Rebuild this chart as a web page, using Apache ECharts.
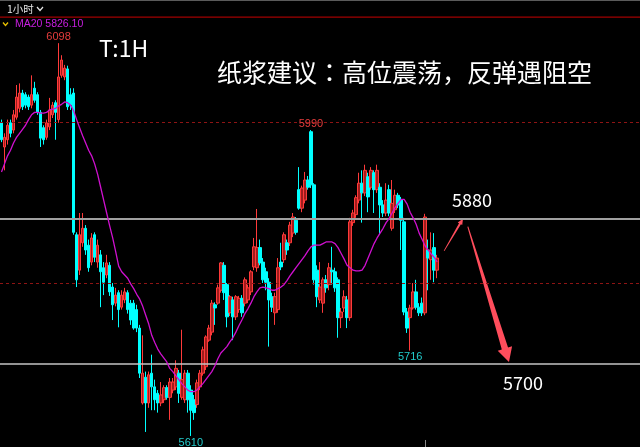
<!DOCTYPE html>
<html><head><meta charset="utf-8">
<script src="https://cdn.jsdelivr.net/npm/echarts@6/dist/echarts.min.js"></script>
<style>html,body{margin:0;padding:0;background:#000}#c{width:640px;height:447px}</style>
</head><body><div id="c"></div>
<script>
// ---- data (1-hour candles) ----
const opens = [5999,5969,5978,5999,5990,6006,6017,6036,6034,6031,
 6021,6042,6034,6012,5993,5981,5994,6009,6024,6003,
 6058,6056,6066,6034,6036,5860,5816,5850,5868,5847,
 5826,5860,5826,5835,5819,5810,5822,5795,5775,5788,
 5770,5779,5788,5775,5775,5767,5744,5651,5683,5651,
 5688,5671,5663,5651,5655,5670,5658,5667,5671,5688,
 5658,5655,5688,5667,5655,5649,5671,5688,5696,5729,
 5739,5773,5775,5791,5822,5798,5763,5779,5758,5767,
 5781,5775,5779,5789,5820,5819,5844,5826,5814,5801,
 5783,5763,5767,5826,5829,5850,5850,5862,5878,5916,
 5893,5903,5928,5988,5922,5816,5779,5775,5804,5798,
 5816,5814,5804,5757,5769,5779,5757,5875,5885,5903,
 5924,5912,5932,5919,5937,5916,5919,5897,5887,5916,
 5868,5891,5909,5903,5876,5764,5757,5769,5789,5770,
 5775,5763,5841,5829,5844,5816];
const closes = [5978,5981,5996,5986,6009,6031,6036,6019,6021,6019,
 6034,6027,6012,5980,5978,5999,6015,6021,6012,6056,
 6077,6067,6019,6021,5863,5804,5860,5868,5841,5819,
 5856,5832,5847,5814,5801,5825,5789,5773,5785,5767,
 5785,5789,5767,5754,5744,5744,5688,5688,5651,5686,
 5671,5655,5651,5661,5670,5658,5677,5677,5694,5663,
 5680,5688,5655,5642,5639,5676,5688,5717,5733,5744,
 5775,5769,5794,5825,5788,5758,5783,5758,5783,5781,
 5763,5804,5794,5814,5845,5844,5825,5804,5801,5779,
 5770,5783,5819,5820,5860,5841,5872,5882,5863,5893,
 5918,5928,5919,5922,5804,5783,5795,5804,5794,5819,
 5814,5794,5757,5764,5783,5757,5876,5887,5906,5924,
 5912,5940,5907,5940,5916,5940,5897,5887,5903,5887,
 5899,5909,5897,5878,5764,5744,5769,5789,5770,5763,
 5763,5882,5831,5841,5816,5831];
const lows = [5975,5940,5972,5981,5986,6003,6012,6015,6017,6015,
 6017,6024,6009,5969,5972,5978,5990,6005,5978,5999,
 6055,6052,6015,6015,5860,5795,5810,5845,5835,5814,
 5822,5826,5819,5770,5785,5806,5784,5754,5771,5745,
 5767,5775,5762,5748,5742,5739,5682,5649,5615,5645,
 5642,5642,5639,5647,5651,5655,5630,5663,5667,5651,
 5655,5651,5639,5610,5630,5645,5667,5685,5692,5727,
 5735,5748,5773,5788,5779,5745,5759,5729,5754,5763,
 5758,5771,5775,5785,5816,5814,5822,5800,5791,5721,
 5764,5748,5763,5816,5825,5835,5846,5857,5860,5891,
 5888,5899,5916,5918,5798,5770,5775,5763,5788,5791,
 5798,5789,5732,5744,5764,5744,5753,5871,5881,5899,
 5875,5908,5888,5916,5887,5912,5860,5882,5883,5883,
 5865,5887,5893,5841,5760,5738,5716,5767,5767,5759,
 5759,5760,5791,5804,5801,5806];
const highs = [6003,5986,6003,6003,6015,6046,6048,6040,6037,6034,
 6058,6050,6037,6015,5996,6003,6030,6025,6027,6098,
 6083,6071,6070,6042,6042,5863,5887,5887,5872,5854,
 5862,5863,5854,5841,5826,5835,5826,5800,5794,5791,
 5791,5794,5791,5779,5779,5773,5748,5735,5690,5690,
 5711,5680,5667,5677,5673,5673,5682,5682,5704,5692,
 5742,5692,5692,5673,5661,5680,5692,5721,5735,5748,
 5779,5776,5798,5826,5826,5800,5785,5783,5785,5784,
 5785,5807,5798,5816,5856,5892,5854,5831,5819,5806,
 5788,5788,5831,5850,5863,5854,5876,5887,5882,5944,
 5921,5938,5933,5990,5924,5822,5826,5807,5810,5825,
 5845,5819,5807,5769,5791,5784,5881,5891,5909,5937,
 5940,5947,5937,5944,5940,5947,5924,5903,5924,5922,
 5928,5916,5912,5907,5881,5769,5773,5800,5804,5775,
 5782,5886,5854,5863,5862,5835];
const ma20 = [5938,5948,5958,5965,5974,5981,5986,5991,5996,6003,
 6009,6012,6012,6011,6011,6012,6015,6016,6017,6020,
 6022,6025,6024,6021,6014,6003,5993,5983,5974,5965,
 5958,5948,5935,5919,5903,5887,5871,5856,5839,5821,
 5814,5810,5806,5799,5793,5786,5780,5771,5760,5749,
 5735,5726,5718,5712,5707,5702,5694,5690,5685,5680,
 5675,5671,5667,5665,5665,5667,5671,5675,5680,5685,
 5690,5697,5706,5713,5717,5721,5727,5732,5739,5747,
 5754,5762,5768,5775,5783,5789,5794,5795,5794,5793,
 5791,5791,5793,5795,5798,5803,5809,5814,5819,5824,
 5829,5834,5840,5845,5847,5847,5847,5849,5851,5851,
 5851,5849,5844,5837,5830,5822,5819,5816,5815,5815,
 5816,5822,5831,5840,5849,5856,5862,5868,5875,5880,
 5887,5894,5899,5904,5904,5898,5888,5881,5873,5862,
 5854,5846,5841,5836,5832,5826.1];
const slotCount = 213;               // candle slots across the full width (right part empty)
const categories = Array.from({length: slotCount}, (_, i) => String(i));
const solidLevels = [5880, 5700];    // grey horizontal levels
const dashLevels = [6000, 5800];     // dark red dashed grid levels
const extremes = [                    // [slot, price, side]
  [19, 6098, 'top'], [103, 5990, 'top'], [136, 5716, 'bottom'], [63, 5610, 'bottom']
];
const sessionTick = [141, 5605, 5596.3];
const arrowUp = [[147.3, 5840], [153.6, 5880]];
const arrowDown = [[155.2, 5870], [168.9, 5702]];
const yMin = 5596.3, yMax = 6151.6;

// ---- chart ----
const RED = '#ff3a3a', CYAN = '#00ffff';
const candleData = opens.map((o, i) => [o, closes[i], lows[i], highs[i]]);
const chart = echarts.init(document.getElementById('c'), null, {renderer: 'canvas'});

function arrowPoly(p0, p1, w0, w1, headLen, headHalf) {
  const dx = p1[0] - p0[0], dy = p1[1] - p0[1];
  const L = Math.hypot(dx, dy), ux = dx / L, uy = dy / L, nx = -uy, ny = ux;
  const hb = [p1[0] - ux * headLen, p1[1] - uy * headLen];
  return [
    [p0[0] + nx * w0 / 2, p0[1] + ny * w0 / 2],
    [hb[0] + nx * w1 / 2, hb[1] + ny * w1 / 2],
    [hb[0] + nx * headHalf, hb[1] + ny * headHalf],
    p1,
    [hb[0] - nx * headHalf, hb[1] - ny * headHalf],
    [hb[0] - nx * w1 / 2, hb[1] - ny * w1 / 2],
    [p0[0] - nx * w0 / 2, p0[1] - ny * w0 / 2]
  ];
}
const arrows = [
  {pts: arrowUp, w0: 0.8, w1: 2.2, hl: 6, hh: 2.6},
  {pts: arrowDown, w0: 1, w1: 6.5, hl: 14, hh: 7.5}
];

const lineMarks = [];
solidLevels.forEach((v, k) => lineMarks.push({yAxis: v, lineStyle: {color: k === 0 ? '#a0a0a0' : '#c4c4c4', width: k === 0 ? 2 : 1.5, type: 'solid'}}));
dashLevels.forEach(v => lineMarks.push({yAxis: v, lineStyle: {color: '#8e1414', width: 1, type: [3, 3]}}));
lineMarks.push([{coord: [sessionTick[0], sessionTick[1]]}, {coord: [sessionTick[0], sessionTick[2]]}]);

const option = {
  backgroundColor: '#000',
  animation: false,
  grid: {left: 0, right: 0, top: 0, bottom: 0, containLabel: false},
  xAxis: [
    {type: 'category', data: categories, boundaryGap: true, show: false},
    {type: 'value', min: -0.5, max: slotCount - 0.5, show: false}
  ],
  yAxis: {type: 'value', min: yMin, max: yMax, show: false, splitLine: {show: false}},
  series: [
    {
      type: 'candlestick', data: candleData, barWidth: 3,
      itemStyle: {color: '#a01c1c', color0: CYAN, borderColor: RED, borderColor0: CYAN, borderWidth: 1},
      markLine: {
        silent: true, symbol: ['none', 'none'], label: {show: false},
        lineStyle: {color: '#888', width: 1, type: 'solid'},
        data: lineMarks
      },
      markPoint: {
        symbol: 'circle', symbolSize: 0, silent: true,
        data: extremes.map(e => ({
          coord: [e[0], e[1]], value: e[1],
          label: {show: true, position: e[2], distance: 1, formatter: '{c}',
            color: e[2] === 'top' ? '#e53c3c' : '#22cccc',
            fontSize: 11, fontFamily: 'Liberation Sans'}
        }))
      }
    },
    {
      type: 'line', data: ma20, symbol: 'none', smooth: false,
      lineStyle: {color: '#d010d0', width: 1.3}, z: 5
    },
    {
      type: 'custom', xAxisIndex: 1, yAxisIndex: 0, clip: false, silent: true,
      data: [[0], [1]],
      renderItem: (params, api) => {
        const a = arrows[params.dataIndex];
        const p0 = api.coord(a.pts[0]), p1 = api.coord(a.pts[1]);
        return {type: 'polygon', shape: {points: arrowPoly(p0, p1, a.w0, a.w1, a.hl, a.hh)},
          style: {fill: '#ff4d5c'}};
      }
    }
  ],
  graphic: [
    {type: 'rect', shape: {x: 0, y: 0, width: 640, height: 1}, style: {fill: '#5a5a5a'}},
    {type: 'rect', shape: {x: 0, y: 16.5, width: 640, height: 1.2}, style: {fill: '#a00000'}},
    {type: 'text', x: 7, y: 9, style: {text: '1小时', fill: '#e6e6e6', font: '10.5px "Noto Sans CJK SC"', textVerticalAlign: 'middle'}},
    {type: 'polyline', shape: {points: [[37, 7], [40, 10.5], [43, 7]]}, style: {stroke: '#e6e6e6', lineWidth: 1.2, fill: null}},
    {type: 'polyline', shape: {points: [[3, 22.5], [5.5, 25.5], [8, 22.5]]}, style: {stroke: '#e8c000', lineWidth: 1.3, fill: null}},
    {type: 'text', x: 15, y: 24.5, style: {text: 'MA20 5826.10', fill: '#c81ee0', font: '10.5px "Liberation Sans"', textVerticalAlign: 'middle'}},
    {type: 'text', x: 99, y: 48, style: {text: 'T:1H', fill: '#ffffff', font: '23px "Noto Sans CJK SC"', textVerticalAlign: 'middle'}},
    {type: 'text', x: 217, y: 72, style: {text: '纸浆建议：高位震荡，反弹遇阻空', fill: '#ffffff', font: '25px "Noto Sans CJK JP"', textVerticalAlign: 'middle'}},
    {type: 'text', x: 452, y: 200, style: {text: '5880', fill: '#ffffff', font: '18px "Noto Sans CJK SC"', textVerticalAlign: 'middle'}},
    {type: 'text', x: 503, y: 383, style: {text: '5700', fill: '#ffffff', font: '18px "Noto Sans CJK SC"', textVerticalAlign: 'middle'}}
  ]
};
chart.setOption(option);
</script>
</body></html>
